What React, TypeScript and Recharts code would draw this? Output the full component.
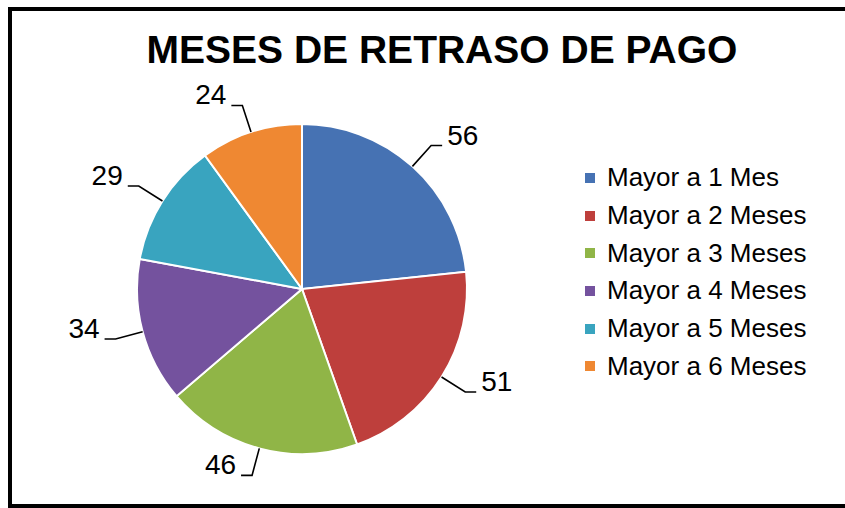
import React from 'react';
import { PieChart, Pie, Cell, Legend } from 'recharts';

// Chart data
const categories = [
  'Mayor a 1 Mes',
  'Mayor a 2 Meses',
  'Mayor a 3 Meses',
  'Mayor a 4 Meses',
  'Mayor a 5 Meses',
  'Mayor a 6 Meses',
];
const values = [56, 51, 46, 34, 29, 24];
const colors = ['#4672b3', '#be3f3c', '#90b547', '#74529e', '#39a4bf', '#ef8832'];

const title = 'MESES DE RETRASO DE PAGO';

const RADIAN = Math.PI / 180;
const FONT = '"Liberation Sans", Arial, sans-serif';
const ELBOW = 28; // distance of the leader elbow beyond the pie edge
const TAIL = 11; // horizontal part of the leader line

const data = categories.map((name, i) => ({ name, value: values[i] }));

// leader line: radial from the edge, then a short horizontal segment
const renderLabelLine = (props: any) => {
  const { cx, cy, midAngle, outerRadius } = props;
  const cos = Math.cos(-midAngle * RADIAN);
  const sin = Math.sin(-midAngle * RADIAN);
  const sx = cx + outerRadius * cos;
  const sy = cy + outerRadius * sin;
  const mx = cx + (outerRadius + ELBOW) * cos;
  const my = cy + (outerRadius + ELBOW) * sin;
  const ex = mx + (cos >= 0 ? 1 : -1) * TAIL;
  return (
    <path
      d={`M${sx},${sy}L${mx},${my}L${ex},${my}`}
      stroke="#000"
      strokeWidth={1.6}
      fill="none"
    />
  );
};

const renderLabel = (props: any) => {
  const { cx, cy, midAngle, outerRadius, value } = props;
  const cos = Math.cos(-midAngle * RADIAN);
  const sin = Math.sin(-midAngle * RADIAN);
  const mx = cx + (outerRadius + ELBOW) * cos;
  const my = cy + (outerRadius + ELBOW) * sin;
  const right = cos >= 0;
  const x = mx + (right ? 1 : -1) * (TAIL + 5);
  return (
    <text
      x={x}
      y={my - 1}
      textAnchor={right ? 'start' : 'end'}
      fontFamily={FONT}
      fontSize={28}
      fill="#000"
    >
      {value}
    </text>
  );
};

const renderLegend = () => (
  <div style={{ fontFamily: FONT, fontSize: 26, color: '#000' }}>
    {categories.map((c, i) => (
      <div key={c} style={{ display: 'flex', alignItems: 'center', height: 37.7 }}>
        <span
          style={{
            display: 'inline-block',
            width: 10,
            height: 10,
            background: colors[i],
            marginRight: 12,
          }}
        />
        <span>{c}</span>
      </div>
    ))}
  </div>
);

export default function App() {
  return (
    <div style={{ position: 'relative', width: 845, height: 508, background: '#fff', overflow: 'hidden' }}>
      <style>{`body{margin:0;overflow:hidden}`}</style>
      <div
        style={{
          position: 'absolute',
          left: 8,
          top: 7,
          width: 845,
          height: 501,
          boxSizing: 'border-box',
          borderTop: '4px solid #000',
          borderLeft: '4px solid #000',
          borderBottom: '4px solid #000',
        }}
      />
      <div
        style={{
          position: 'absolute',
          left: 0,
          top: 28,
          width: 884,
          textAlign: 'center',
          fontFamily: FONT,
          fontWeight: 'bold',
          fontSize: 39,
          lineHeight: '44px',
          color: '#000',
        }}
      >
        {title}
      </div>
      <div style={{ position: 'absolute', left: 0, top: 0 }}>
        <PieChart width={845} height={508} margin={{ top: 0, right: 0, bottom: 0, left: 0 }}>
          <Pie
            data={data}
            dataKey="value"
            nameKey="name"
            cx={302}
            cy={289}
            outerRadius={165}
            startAngle={90}
            endAngle={-270}
            stroke="#fff"
            strokeWidth={2}
            label={renderLabel}
            labelLine={renderLabelLine}
            isAnimationActive={false}
          >
            {data.map((d, i) => (
              <Cell key={d.name} fill={colors[i]} />
            ))}
          </Pie>
          <Legend
            content={renderLegend}
            wrapperStyle={{ position: 'absolute', left: 585, top: 159, width: 250 }}
          />
        </PieChart>
      </div>
    </div>
  );
}
